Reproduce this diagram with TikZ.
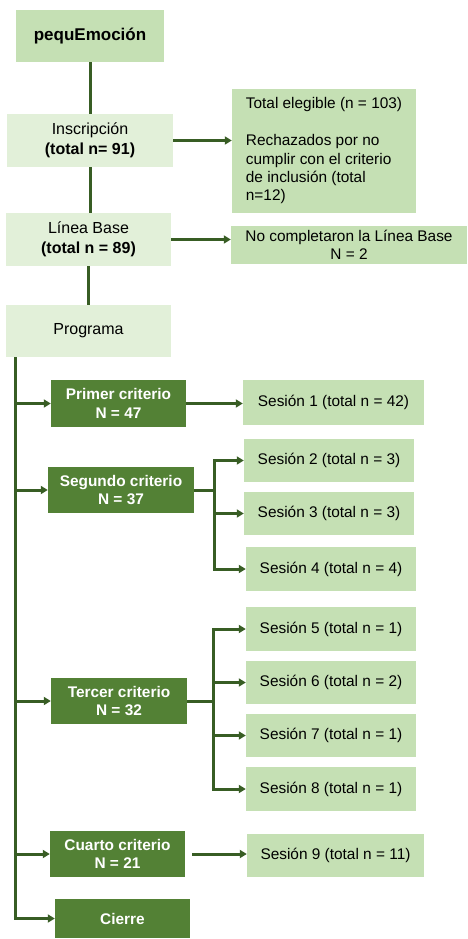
\documentclass[tikz,border=0pt]{standalone}
\usepackage{fontspec}
\setmainfont{Liberation Sans}
\usetikzlibrary{arrows.meta,calc}
\definecolor{dkline}{HTML}{385D24}
\definecolor{dgreen}{HTML}{538135}
\definecolor{lgreen}{HTML}{C5E0B4}
\definecolor{pgreen}{HTML}{E2F0D9}
\begin{document}
\begin{tikzpicture}[x=1pt,y=-1pt,
  box/.style={rectangle, inner sep=0pt, align=center, font=\fontsize{15.4}{18.4}\selectfont},
  light/.style={box, fill=lgreen},
  pale/.style={box, fill=pgreen, font=\fontsize{16}{20}\selectfont},
  dark/.style={box, fill=dgreen, text=white, font=\fontsize{15.4}{18.4}\selectfont\bfseries},
  conn/.style={draw=dkline, line width=3pt},
  arr/.style={conn, -{Triangle[length=7pt,width=8pt]}}]
\useasboundingbox (0,0) rectangle (467,939);

\node[light, minimum width=148pt, minimum height=52pt, font=\fontsize{17}{20}\selectfont\bfseries] (title) at (90,36) {pequEmoción};
\node[pale, minimum width=166pt, minimum height=53pt] (insc) at (90,140.5) {Inscripción\\\textbf{(total n= 91)}};
\node[light, minimum width=184pt, minimum height=124pt, align=left] (elig) at (324,151) {Total elegible (n = 103)\\[18.4pt]Rechazados por no\\cumplir con el criterio\\de inclusión (total\\n=12)};
\node[pale, minimum width=165pt, minimum height=53pt] (lb) at (88.5,239.5) {Línea Base\\\textbf{(total n = 89)}};
\node[light, minimum width=236pt, minimum height=38pt] (nocomp) at (349,245) {No completaron la Línea Base\\N = 2};
\node[pale, minimum width=165pt, minimum height=52pt] (prog) at (88.5,331) {Programa};

\node[dark, minimum width=135pt, minimum height=47pt] (c1) at (118.5,403.5) {Primer criterio\\N = 47};
\node[dark, minimum width=146pt, minimum height=46pt] (c2) at (121,490) {Segundo criterio\\N = 37};
\node[dark, minimum width=136pt, minimum height=46pt] (c3) at (119,701) {Tercer criterio\\N = 32};
\node[dark, minimum width=135pt, minimum height=46pt] (c4) at (117.5,854) {Cuarto criterio\\N = 21};
\node[dark, minimum width=135pt, minimum height=39pt] (cierre) at (122.5,918.5) {Cierre};

\node[light, minimum width=181pt, minimum height=45pt] (s1) at (333.5,402.5) {Sesión 1 (total n = 42)};
\node[light, minimum width=170pt, minimum height=43pt] (s2) at (329,460.5) {Sesión 2 (total n = 3)};
\node[light, minimum width=170pt, minimum height=43pt] (s3) at (329,513.5) {Sesión 3 (total n = 3)};
\node[light, minimum width=170pt, minimum height=44pt] (s4) at (331,569) {Sesión 4 (total n = 4)};
\node[light, minimum width=170pt, minimum height=44pt] (s5) at (331,629) {Sesión 5 (total n = 1)};
\node[light, minimum width=170pt, minimum height=43pt] (s6) at (331,682.5) {Sesión 6 (total n = 2)};
\node[light, minimum width=170pt, minimum height=43pt] (s7) at (331,735.5) {Sesión 7 (total n = 1)};
\node[light, minimum width=170pt, minimum height=44pt] (s8) at (331,789) {Sesión 8 (total n = 1)};
\node[light, minimum width=177pt, minimum height=43pt] (s9) at (335.5,855.5) {Sesión 9 (total n = 11)};

% main column
\draw[conn] (title.south) -- (insc.north);
\draw[conn] (insc.south) -- (insc.south |- lb.north);
\draw[conn] (lb.south) -- (lb.south |- prog.north);
\draw[arr] (insc.east) -- (insc.east -| elig.west);
\draw[arr] (lb.east) -- (lb.east -| nocomp.west);

% trunk
\coordinate (tt) at ($(prog.south west)+(10,0)$);
\draw[arr] (tt) |- (cierre.west);
\draw[arr] (tt |- c1.west) -- (c1.west);
\draw[arr] (tt |- c2.west) -- (c2.west);
\draw[arr] (tt |- c3.west) -- (c3.west);
\draw[arr] (tt |- c4.west) -- (c4.west);

% first criterion
\draw[arr] (c1.east) -- (c1.east -| s1.west);

% second criterion
\coordinate (b2) at (214,0);
\draw[conn] (c2.east) -- (c2.east -| b2);
\draw[arr] (c2.east -| b2) |- (s2.west);
\draw[arr] (c2.east -| b2) |- (s4.west);
\draw[arr] (b2 |- s3.west) -- (s3.west);

% third criterion
\coordinate (b3) at (213,0);
\draw[conn] (c3.east) -- (c3.east -| b3);
\draw[arr] (c3.east -| b3) |- (s5.west);
\draw[arr] (c3.east -| b3) |- (s8.west);
\draw[arr] (b3 |- s6.west) -- (s6.west);
\draw[arr] (b3 |- s7.west) -- (s7.west);

% fourth criterion
\draw[arr, shorten <=7pt] (c4.east) -- (c4.east -| s9.west);
\end{tikzpicture}
\end{document}
